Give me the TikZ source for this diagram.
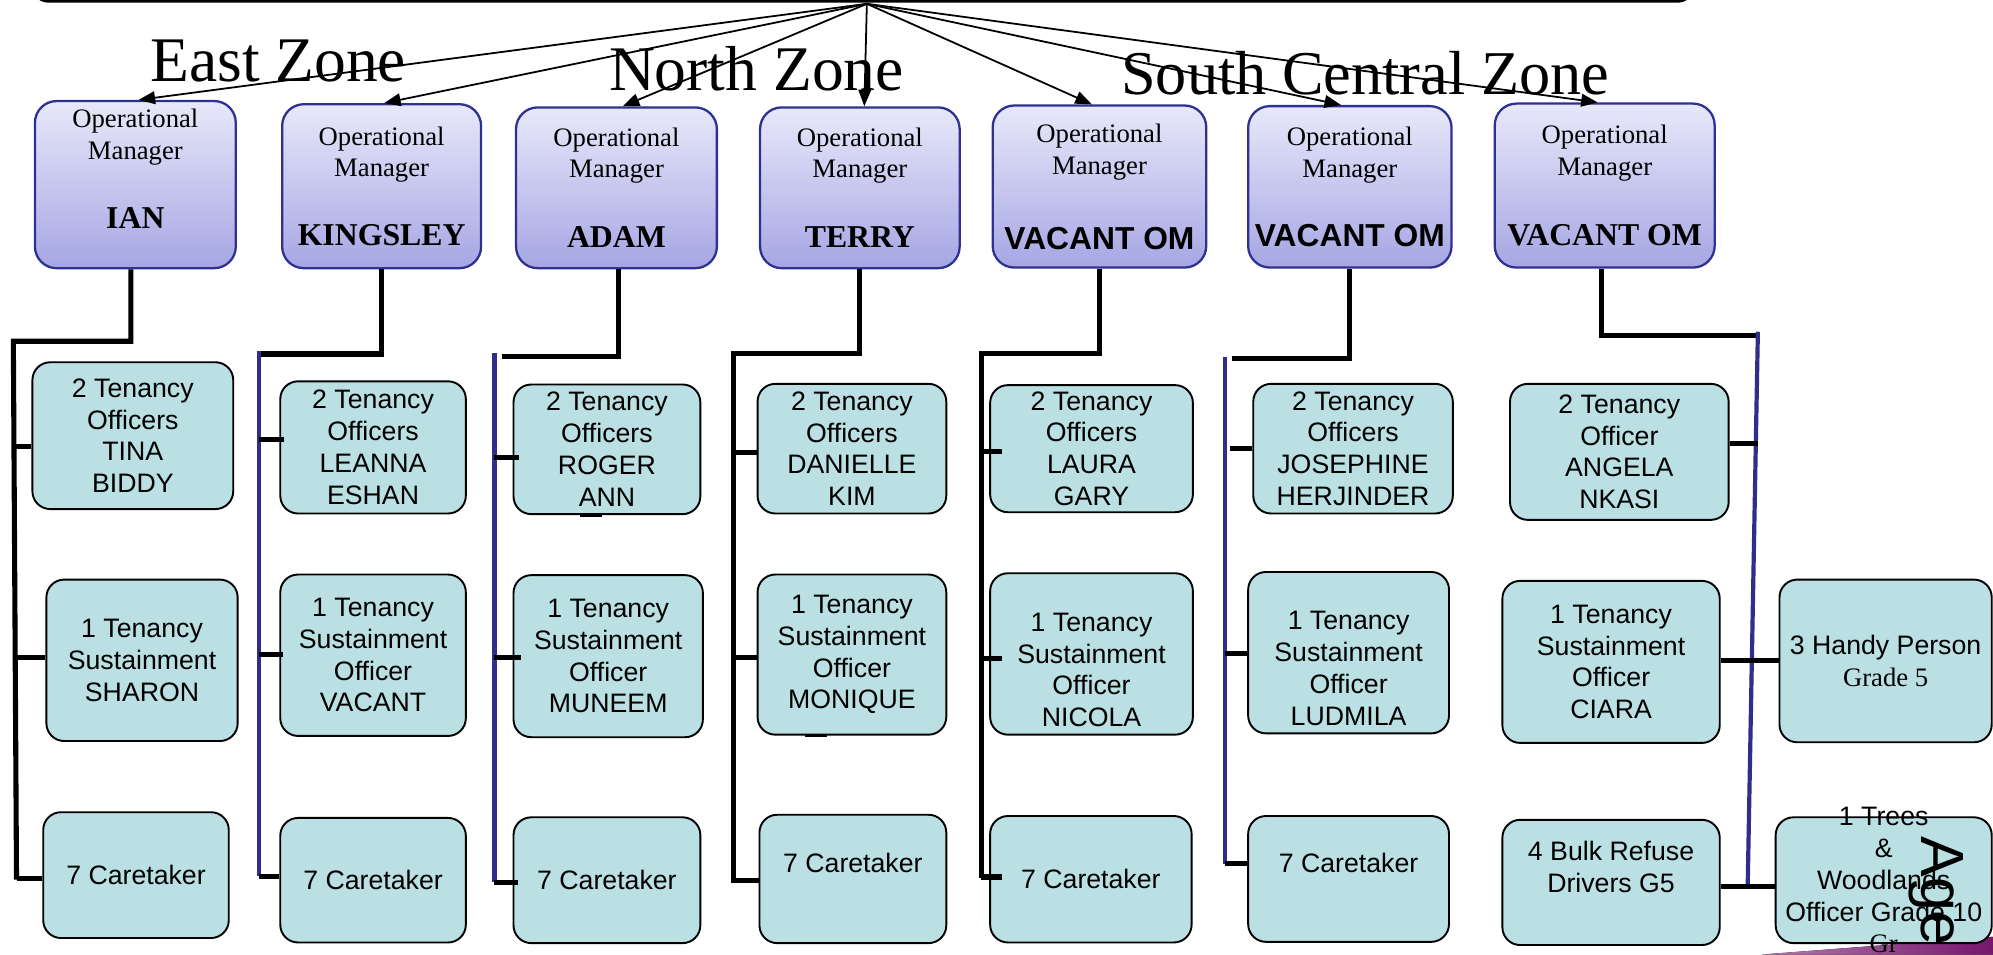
\documentclass[tikz,border=0pt]{standalone}
\usepackage{fontspec}
\setmainfont{Liberation Serif}
\newfontfamily\arialfont{Liberation Sans}
\usetikzlibrary{arrows.meta}

\definecolor{omedge}{RGB}{46,49,146}
\definecolor{omlight}{RGB}{232,232,250}
\definecolor{omdark}{RGB}{166,166,228}
\definecolor{stafffill}{RGB}{187,224,227}
\definecolor{spineblue}{RGB}{46,46,140}
\definecolor{plumlight}{RGB}{180,124,174}
\definecolor{plumdark}{RGB}{118,22,108}

% bold manager names in serif and sans
\newcommand\serifname[1]{{\fontsize{25}{25}\selectfont\bfseries #1}}
\newcommand\sansname[1]{{\arialfont\fontsize{25}{25}\selectfont\bfseries #1}}

\begin{document}
\begin{tikzpicture}[x=1pt,y=-1pt,
  headbox/.style={draw=black, line width=2.2pt, rounded corners=12pt, inner sep=0pt, outer sep=0pt},
  ombox/.style={draw=omedge, line width=1.8pt, rounded corners=17pt,
    top color=omlight, bottom color=omdark, inner sep=0pt, align=center,
    font=\fontsize{21}{25}\selectfont},
  staffbox/.style={draw=black, line width=1.5pt, rounded corners=14pt,
    fill=stafffill, inner sep=0pt, align=center,
    font=\arialfont\fontsize{21}{25}\selectfont},
  stafftext/.style={inner sep=0pt, align=center, font=\arialfont\fontsize{21}{25}\selectfont},
  zone/.style={inner sep=0pt, anchor=base west},
  feed/.style={line width=1.4pt, -{Triangle[length=13pt,width=10pt]}},
  link/.style={line width=4pt, line join=miter},
  bluespine/.style={draw=spineblue, line width=3.3pt},
]
\path[use as bounding box, fill=white] (0,0) rectangle (1568,751);

% head of the chart (only its lower edge is inside the frame)
\node[headbox, minimum width=1306pt, minimum height=60pt, anchor=south] (head) at (679,1) {};
\coordinate (hub) at (682,3);

% zone titles
\node[zone, font=\fontsize{50}{50}\selectfont] (east) at (118,64) {East Zone};
\node[zone, font=\fontsize{50}{50}\selectfont] (north) at (479,71.5) {North Zone};
\node[zone, font=\fontsize{49}{49}\selectfont] (south) at (882,74.5) {South Central Zone};

% operational managers
\node[ombox, minimum width=158pt, minimum height=131.5pt] (om1) at (106.5,145.25)
  {Operational\\Manager\\[29pt]\serifname{IAN}\\\vphantom{T}};
\node[ombox, minimum width=156.5pt, minimum height=129pt] (om2) at (300.25,146.5)
  {Operational\\Manager\\[29pt]\serifname{KINGSLEY}};
\node[ombox, minimum width=158pt, minimum height=126.5pt] (om3) at (485,147.75)
  {Operational\\Manager\\[30pt]\serifname{ADAM}};
\node[ombox, minimum width=157pt, minimum height=126.5pt] (om4) at (676.5,147.75)
  {Operational\\Manager\\[30pt]\serifname{TERRY}};
\node[ombox, minimum width=168pt, minimum height=127.5pt] (om5) at (865,146.75)
  {Operational\\Manager\\[34pt]\sansname{VACANT OM}};
\node[ombox, minimum width=160pt, minimum height=127pt] (om6) at (1062,147)
  {Operational\\Manager\\[29.5pt]\sansname{VACANT OM}};
\node[ombox, minimum width=173pt, minimum height=129pt] (om7) at (1262.5,146)
  {Operational\\Manager\\[30.5pt]\serifname{VACANT OM}};

% reporting arrows from the head
\draw[feed] (hub) -- ([xshift=2.5pt]om1.north);
\draw[feed] (hub) -- ([xshift=2pt]om2.north);
\draw[feed] (hub) -- ([xshift=5pt]om3.north);
\draw[feed] (hub) -- ([xshift=3.5pt]om4.north);
\draw[feed] (hub) -- ([xshift=-6pt]om5.north);
\draw[feed] (hub) -- ([xshift=-7pt]om6.north);
\draw[feed] (hub) -- ([xshift=-5.5pt]om7.north);

% manager drop lines and spines
\draw[link] ([xshift=-3.5pt]om1.south) |- (10.5,268.5) -- (13,692);
\draw[link] (om2.south) |- (205.5,278.5);
\draw[bluespine] (204,276) -- (204,689.5);
\draw[link] ([xshift=1.5pt]om3.south) |- (395,280.5);
\draw[bluespine] (389,278) -- (389,694);
\draw[link] (om4.south) |- (577,278) -- (577,695);
\draw[link] (om5.south) |- (772,278) -- (772,691);
\draw[link] (om6.south) |- (969,282);
\draw[bluespine] (964,281) -- (964,680);
\draw[link] ([xshift=-2.5pt]om7.south) |- (1383,264);
\draw[bluespine] (1383,261) -- (1375,697);

% staff boxes
\node[staffbox, minimum width=158pt, minimum height=115.5pt] (a1) at (104.5,342.75) {2 Tenancy\\Officers\\TINA\\BIDDY};
\node[staffbox, minimum width=150.5pt, minimum height=127pt] (b1) at (111.75,519.5) {1 Tenancy\\Sustainment\\SHARON};
\node[staffbox, minimum width=146pt, minimum height=99pt] (c1) at (107,688.5) {7 Caretaker};

\node[staffbox, minimum width=146pt, minimum height=104pt] (a2) at (293.5,352) {2 Tenancy\\Officers\\LEANNA\\ESHAN};
\node[staffbox, minimum width=146pt, minimum height=127pt] (b2) at (293.5,515.5) {1 Tenancy\\Sustainment\\Officer\\VACANT};
\node[staffbox, minimum width=146pt, minimum height=98pt] (c2) at (293.5,692.5) {7 Caretaker};

\node[staffbox, minimum width=147pt, minimum height=102pt] (a3) at (477.5,353.5) {2 Tenancy\\Officers\\ROGER\\ANN};
\node[staffbox, minimum width=149pt, minimum height=127.5pt] (b3) at (478.5,516.25) {1 Tenancy\\Sustainment\\Officer\\MUNEEM};
\node[staffbox, minimum width=147pt, minimum height=99pt] (c3) at (477.5,692.5) {7 Caretaker};

\node[staffbox, minimum width=148.5pt, minimum height=102pt] (a4) at (670.25,353) {2 Tenancy\\Officers\\DANIELLE\\KIM};
\node[staffbox, minimum width=148.5pt, minimum height=126pt] (b4) at (670.25,515) {1 Tenancy\\Sustainment\\Officer\\MONIQUE};
\node[staffbox, minimum width=147pt, minimum height=101pt] (c4) at (671,691.5) {7 Caretaker\\\vphantom{T}};

\node[staffbox, minimum width=159.5pt, minimum height=100pt] (a5) at (858.75,353) {2 Tenancy\\Officers\\LAURA\\GARY};
\node[staffbox, minimum width=159.5pt, minimum height=127pt] (b5) at (858.75,514.5) {\vphantom{T}\\1 Tenancy\\Sustainment\\Officer\\NICOLA};
\node[staffbox, minimum width=158.5pt, minimum height=99.5pt] (c5) at (858.25,691.75) {7 Caretaker};

\node[staffbox, minimum width=157pt, minimum height=102pt] (a6) at (1064.5,353) {2 Tenancy\\Officers\\JOSEPHINE\\HERJINDER};
\node[staffbox, minimum width=158pt, minimum height=127pt] (b6) at (1061,513.5) {\vphantom{T}\\1 Tenancy\\Sustainment\\Officer\\LUDMILA};
\node[staffbox, minimum width=158pt, minimum height=99pt] (c6) at (1061,691.5) {7 Caretaker\\\vphantom{T}};

\node[staffbox, minimum width=172pt, minimum height=107pt] (a7) at (1274,355.5) {2 Tenancy\\Officer\\ANGELA\\NKASI};
\node[staffbox, minimum width=171pt, minimum height=127.5pt] (b7) at (1267.5,520.75) {1 Tenancy\\Sustainment\\Officer\\CIARA};
\node[staffbox, minimum width=171pt, minimum height=98.5pt] (c7) at (1267.5,694.25) {4 Bulk Refuse\\Drivers G5\\\vphantom{T}};
\node[staffbox, minimum width=167pt, minimum height=128pt] (d7) at (1483.5,520) {3 Handy Person\\{\rmfamily Grade 5}};

% corner ribbon
\fill[left color=plumlight, right color=plumdark] (1386,751) -- (1568,737) -- (1568,751) -- cycle;

\node[staffbox, minimum width=170pt, minimum height=99pt] (e7) at (1482,692.5) {};
\node[stafftext] (e7text) at (e7.center) {1 Trees\\\&\\Woodlands\\Officer Grade 10\\{\rmfamily Gr}};

% short marks on box edges
\draw[line width=2.5pt] ([xshift=-21pt]a3.south) -- ([xshift=-3.5pt]a3.south);
\draw[line width=2.5pt] ([xshift=-36.75pt]b4.south) -- ([xshift=-19.5pt]b4.south);

% stubs from spines to staff boxes
\draw[link] (10.5,351.5) -- (a1.west |- 0,351.5);
\draw[link] (12,517) -- (b1.west |- 0,517);
\draw[link] (13,691.5) -- (c1.west |- 0,691.5);

\draw[link] (204,346) -- (a2.west |- 0,346) -- ++(4,0);
\draw[link] (204,515) -- (b2.west |- 0,515) -- ++(3,0);
\draw[link] (204,689.5) -- (c2.west |- 0,689.5);

\draw[link] (389,360) -- (a3.west |- 0,360) -- ++(5,0);
\draw[link] (389,517) -- (b3.west |- 0,517) -- ++(7,0);
\draw[link] (389,694) -- (c3.west |- 0,694) -- ++(4,0);

\draw[link] (577,356) -- (a4.west |- 0,356);
\draw[link] (577,517) -- (b4.west |- 0,517);
\draw[link] (577,693) -- (c4.west |- 0,693);

\draw[link] (772,355) -- (a5.west |- 0,355) -- ++(10,0);
\draw[link] (772,518) -- (b5.west |- 0,518) -- ++(10,0);
\draw[link] (772,690) -- (c5.west |- 0,690) -- ++(10,0);

\draw[link] (968,353) -- (a6.west |- 0,353);
\draw[link] (964,514) -- (b6.west |- 0,514);
\draw[link] (964,679) -- (c6.west |- 0,679);

\draw[link] (a7.east |- 0,349) -- (1383,349);
\draw[link] (b7.east |- 0,519.5) -- (d7.west |- 0,519.5);
\draw[link] (c7.east |- 0,697.5) -- (e7.west |- 0,697.5);

% vertical caption at the lower right
\node[rotate=-90, anchor=base west, inner sep=0pt,
  font=\arialfont\fontsize{48}{48}\selectfont] (agetxt) at (1512,658) {Age};
\end{tikzpicture}
\end{document}
